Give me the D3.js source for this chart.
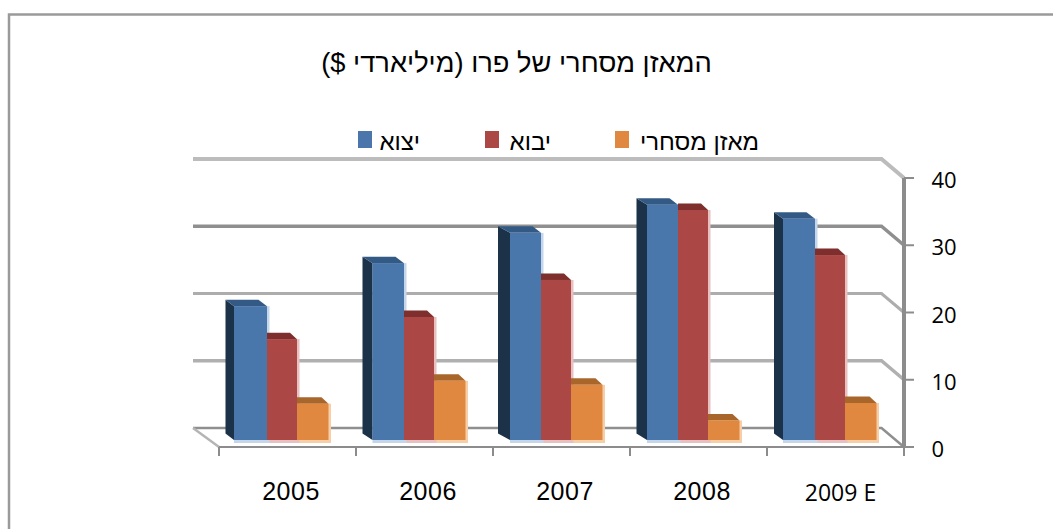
<!DOCTYPE html>
<html lang="he"><head><meta charset="utf-8">
<script src="https://cdn.jsdelivr.net/npm/d3@7/dist/d3.min.js"></script>
<style>html,body{margin:0;background:#fff}svg{display:block}text{font-family:"Liberation Sans",Arial,sans-serif;fill:#000}</style>
</head><body><svg id="c" width="1053" height="529"></svg>
<script>
const title = "המאזן מסחרי של פרו (מיליארדי $)";
const categories = ["2005","2006","2007","2008","2009 E"];
const seriesNames = ["יצוא","יבוא","מאזן מסחרי"];
const exportsV = [19.9,26.3,30.8,35,32.9];
const importsV = [15,18.3,23.8,34.2,27.5];
const balanceV = [5.4,8.8,8.2,2.9,5.5];
const valuesBySeries = [exportsV,importsV,balanceV];
const yTicks = [0,10,20,30,40];
const front = ["#4a76ab","#ab4744","#e0883f"];
const topC = ["#335a85","#7f2f2d","#a9662c"];
const sideC = ["#1c3049","#5c2120","#7d4a1f"];
const halo = ["#c6d6ea","#e8c0bf","#f6cfa9"];

const svg = d3.select("#c");
const defs = svg.append("defs");
defs.append("filter").attr("id","soft").attr("x","-5%").attr("y","-5%").attr("width","110%").attr("height","110%")
  .append("feGaussianBlur").attr("stdDeviation",0.45);

const x = d3.scaleBand().domain(categories).range([219,904]);
const y = d3.scaleLinear().domain([0,40]).range([447,178]);
const dx=-22.5, dy=-19;
const barBase = 440;
const yBar = v => barBase-(y(0)-y(v));
// left and right edge of each series' front face inside a category band
const rightEdge = d3.scaleOrdinal().domain(seriesNames).range([48,78,109.5]);
const firstLeft = d3.scaleOrdinal().domain(categories).range([15,16.5,17,17,16]);
const sideDepth = d3.scaleOrdinal().domain(categories).range([8.5,10,12,10.5,9]);
const topDepth = d3.scaleOrdinal().domain(seriesNames).range([8.5,7,7]);
const backLeft=193, backRight=x.range()[1]+dx;

// frame
svg.append("path").attr("d","M9 529V14.5H1053").attr("fill","none").attr("stroke","#9a9a9a").attr("stroke-width",2.5);

const chart = svg.append("g").attr("filter","url(#soft)");

// back wall gridlines + diagonal edges
const gw={0:2.5,10:3.5,20:3,30:3.5,40:4};
const gc={0:"#8f8f8f",10:"#b0b0b0",20:"#adadad",30:"#8f8f8f",40:"#bcbcbc"};
yTicks.forEach(t=>{
  chart.append("path").attr("d",d3.line()([[backLeft,y(t)+dy],[backRight,y(t)+dy],[x.range()[1],y(t)]]))
    .attr("fill","none").attr("stroke",gc[t]).attr("stroke-width",gw[t]);
});
chart.append("path").attr("d",d3.line()([[backLeft,y(0)+dy],[x.range()[0],y(0)]])).attr("fill","none").attr("stroke","#b5b5b5").attr("stroke-width",2.5);

// axes
const ax="#8c8c8c";
chart.append("line").attr("x1",x.range()[1]).attr("x2",x.range()[1]).attr("y1",y(40)).attr("y2",y(0)).attr("stroke",ax).attr("stroke-width",4);
chart.append("line").attr("x1",x.range()[0]).attr("x2",x.range()[1]).attr("y1",y(0)).attr("y2",y(0)).attr("stroke",ax).attr("stroke-width",2);
yTicks.forEach(t=>{
  chart.append("line").attr("x1",x.range()[1]).attr("x2",x.range()[1]+10).attr("y1",y(t)).attr("y2",y(t)).attr("stroke",ax).attr("stroke-width",2);
  svg.append("text").attr("x",x.range()[1]+27.5).attr("y",y(t)+10).attr("font-size",22).style("font-family","'Open Sans'").text(t);
});
[...categories.map(c=>x(c)),x.range()[1]].forEach(px=>{
  chart.append("line").attr("x1",px).attr("x2",px).attr("y1",y(0)).attr("y2",y(0)+9).attr("stroke",ax).attr("stroke-width",2);
});
categories.forEach((c,i)=>{
  const t=svg.append("text").attr("x",x(c)+x.bandwidth()/2+(i===4?5:3.5)).attr("y",i===4?501:500).attr("text-anchor","middle").text(c);
  if(i===4) t.attr("font-size",23).style("font-family","'Open Sans'");
  else t.attr("font-size",25).attr("letter-spacing",0.5);
});

const geom=(s,c)=>{
  const name=seriesNames[s];
  const l=x(c)+(s===0?firstLeft(c):rightEdge(seriesNames[s-1]));
  const r=x(c)+rightEdge(name);
  return {l,w:r-l};
};
// halos first, so that no bar is tinted by a neighbour's halo
const halos=chart.append("g"), bars=chart.append("g");
[2,1,0].forEach(s=>{
  categories.forEach((c,i)=>{
    const {l,w}=geom(s,c), t=yBar(valuesBySeries[s][i]);
    halos.append("rect").attr("x",l).attr("y",t).attr("width",w+2.5).attr("height",barBase-t+3).attr("fill",halo[s]);
    const by=-6.5, tx=-topDepth(seriesNames[s]), sx=-sideDepth(c);
    const g=bars.append("g");
    if(s===0) g.append("path").attr("d",d3.line()([[l+sx,t+by],[l,t],[l,barBase],[l+sx,barBase+by]])).attr("fill",sideC[s]);
    g.append("path").attr("d",d3.line()([[l+(s===0?sx:0),t+by],[l+w+tx,t+by],[l+w,t],[l,t]])).attr("fill",topC[s]);
    g.append("rect").attr("x",l).attr("y",t).attr("width",w).attr("height",barBase-t).attr("fill",front[s]);
  });
});

// title
svg.append("text").attr("x",516.5).attr("y",72).attr("text-anchor","middle").attr("direction","rtl").attr("font-size",27.3).text(title);

// legend
const legX = d3.scaleOrdinal().domain(seriesNames).range([358,485,615]);
const legT = d3.scaleOrdinal().domain(seriesNames).range([420,551,759]);
seriesNames.forEach((n,s)=>{
  svg.append("rect").attr("x",legX(n)).attr("y",131).attr("width",14).attr("height",17).attr("fill",front[s]);
  svg.append("text").attr("x",legT(n)).attr("y",150).attr("direction","rtl").attr("text-anchor","start").attr("font-size",24).text(n);
});
</script></body></html>
